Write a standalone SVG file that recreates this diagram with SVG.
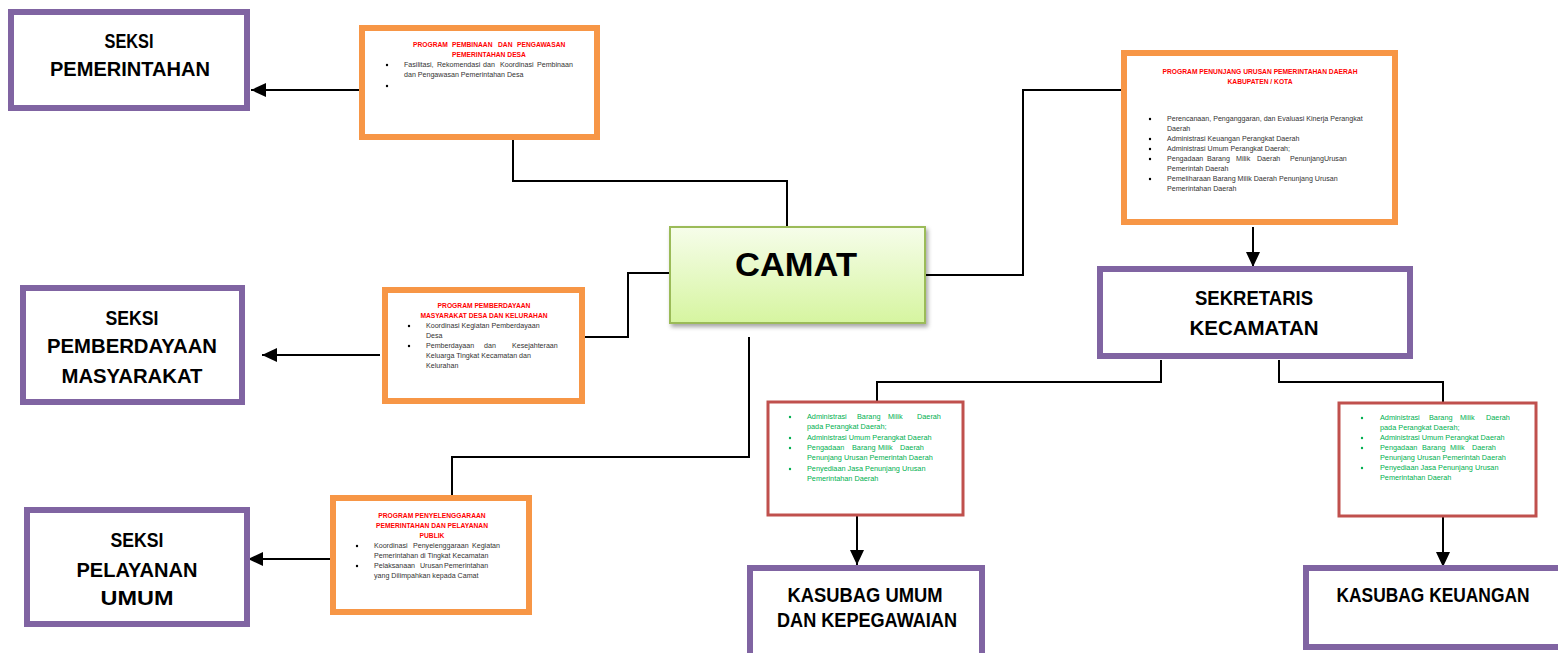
<svg xmlns="http://www.w3.org/2000/svg" width="1558" height="653" viewBox="0 0 1558 653">
<style>
.seksi{fill:#fff;stroke:#8064a2;stroke-width:6}
.prog{fill:#fff;stroke:#f79646;stroke-width:6}
.redbox{fill:#fff;stroke:#c0504d;stroke-width:3}
.big{font-family:"Liberation Sans",Arial,sans-serif;font-weight:bold;font-size:20px;fill:#000;text-anchor:middle}
.tt{font-family:"Liberation Sans",Arial,sans-serif;font-weight:bold;font-size:6.7px;fill:#ff0000;text-anchor:middle}
.tts{font-family:"Liberation Sans",Arial,sans-serif;font-weight:bold;font-size:6.7px;fill:#ff0000}
.bt{font-family:"Liberation Sans",Arial,sans-serif;font-size:7.1px;fill:#333}
.gt{font-family:"Liberation Sans",Arial,sans-serif;font-size:7.3px;fill:#00b050}
.bl{fill:#000}
.gbl{fill:#00b050}
.conn{fill:none;stroke:#000;stroke-width:2}
</style>
<defs>
<marker id="arr" markerUnits="userSpaceOnUse" markerWidth="16" markerHeight="14" refX="15" refY="7" orient="auto">
<path d="M0,0 L15,7 L0,14 z" fill="#000"/>
</marker>
<linearGradient id="camatG" x1="0" y1="0" x2="0" y2="1">
<stop offset="0" stop-color="#f6fdea"/>
<stop offset="1" stop-color="#d6f5a0"/>
</linearGradient>
<filter id="sh" x="-10%" y="-10%" width="130%" height="140%">
<feDropShadow dx="2" dy="3" stdDeviation="2" flood-color="#000" flood-opacity="0.35"/>
</filter>
</defs>
<rect width="1558" height="653" fill="#fff"/>

<g id="connectors">
<path class="conn" d="M360,90 H251" marker-end="url(#arr)"/>
<path class="conn" d="M513,140 V181 H787 V226"/>
<path class="conn" d="M669,273 H628 V337 H583"/>
<path class="conn" d="M925,275 H1023 V90 H1122"/>
<path class="conn" d="M749,337 V457 H452 V497"/>
<path class="conn" d="M380,355 H262" marker-end="url(#arr)"/>
<path class="conn" d="M330,559 H248" marker-end="url(#arr)"/>
<path class="conn" d="M1253,227 V267" marker-end="url(#arr)"/>
<path class="conn" d="M1161,360 V382 H877 V401"/>
<path class="conn" d="M1279,360 V382 H1443 V402"/>
<path class="conn" d="M857,516 V565" marker-end="url(#arr)"/>
<path class="conn" d="M1443,517 V567" marker-end="url(#arr)"/>
</g>

<g id="seksi-pemerintahan">
<rect class="seksi" x="11" y="12" width="236" height="96"/>
<text class="big" x="129" y="48" textLength="49" lengthAdjust="spacingAndGlyphs">SEKSI</text>
<text class="big" x="130" y="76" textLength="160" lengthAdjust="spacingAndGlyphs">PEMERINTAHAN</text>
</g>

<g id="seksi-pemberdayaan">
<rect class="seksi" x="23" y="288" width="219" height="114"/>
<text class="big" x="132" y="325" textLength="53" lengthAdjust="spacingAndGlyphs">SEKSI</text>
<text class="big" x="132" y="353" textLength="170" lengthAdjust="spacingAndGlyphs">PEMBERDAYAAN</text>
<text class="big" x="132" y="383" textLength="141" lengthAdjust="spacingAndGlyphs">MASYARAKAT</text>
</g>

<g id="seksi-pelayanan">
<rect class="seksi" x="27" y="510" width="220" height="114"/>
<text class="big" x="137" y="547" textLength="53" lengthAdjust="spacingAndGlyphs">SEKSI</text>
<text class="big" x="137" y="577" textLength="121" lengthAdjust="spacingAndGlyphs">PELAYANAN</text>
<text class="big" x="137" y="605" textLength="73" lengthAdjust="spacingAndGlyphs">UMUM</text>
</g>

<g id="program-pembinaan">
<rect class="prog" x="362" y="28" width="235" height="109"/>
<text class="tts" y="47"><tspan x="413">PROGRAM</tspan><tspan x="452">PEMBINAAN</tspan><tspan x="498">DAN</tspan><tspan x="517">PENGAWASAN</tspan></text>
<text class="tt" x="489" y="57">PEMERINTAHAN DESA</text>
<circle class="bl" cx="387" cy="65" r="1.2"/>
<text class="bt" y="67"><tspan x="404">Fasilitasi,</tspan><tspan x="437">Rekomendasi</tspan><tspan x="483">dan</tspan><tspan x="500">Koordinasi</tspan><tspan x="537">Pembinaan</tspan></text>
<text class="bt" x="404" y="77">dan Pengawasan Pemerintahan Desa</text>
<circle class="bl" cx="387" cy="86" r="1.2"/>
</g>

<g id="program-pemberdayaan">
<rect class="prog" x="385" y="290" width="197" height="111"/>
<text class="tt" x="484" y="308">PROGRAM  PEMBERDAYAAN</text>
<text class="tt" x="484" y="318">MASYARAKAT DESA DAN KELURAHAN</text>
<circle class="bl" cx="409" cy="326" r="1.2"/>
<text class="bt" x="426" y="328">Koordinasi Kegiatan Pemberdayaan</text>
<text class="bt" x="426" y="338">Desa</text>
<circle class="bl" cx="409" cy="346" r="1.2"/>
<text class="bt" y="348"><tspan x="426">Pemberdayaan</tspan><tspan x="484">dan</tspan><tspan x="512">Kesejahteraan</tspan></text>
<text class="bt" x="426" y="358">Keluarga Tingkat Kecamatan dan</text>
<text class="bt" x="426" y="368">Kelurahan</text>
</g>

<g id="program-penyelenggaraan">
<rect class="prog" x="333" y="498" width="196" height="114"/>
<text class="tt" x="432" y="518">PROGRAM PENYELENGGARAAN</text>
<text class="tt" x="432" y="528">PEMERINTAHAN DAN PELAYANAN</text>
<text class="tt" x="432" y="538">PUBLIK</text>
<circle class="bl" cx="357" cy="546" r="1.2"/>
<text class="bt" y="548"><tspan x="374">Koordinasi</tspan><tspan x="413">Penyelenggaraan</tspan><tspan x="472">Kegiatan</tspan></text>
<text class="bt" x="374" y="558">Pemerintahan di Tingkat Kecamatan</text>
<circle class="bl" cx="357" cy="566" r="1.2"/>
<text class="bt" y="568"><tspan x="374">Pelaksanaan</tspan><tspan x="420">Urusan</tspan><tspan x="444">Pemerintahan</tspan></text>
<text class="bt" x="374" y="578">yang Dilimpahkan kepada Camat</text>
</g>

<g id="camat">
<rect x="670" y="227" width="255" height="96" fill="url(#camatG)" stroke="#9bbb59" stroke-width="2" filter="url(#sh)"/>
<text x="796" y="276" font-family="'Liberation Sans',Arial,sans-serif" font-weight="bold" font-size="34" text-anchor="middle" fill="#000" textLength="122" lengthAdjust="spacingAndGlyphs">CAMAT</text>
</g>

<g id="program-penunjang">
<rect class="prog" x="1124" y="53" width="271" height="169"/>
<text class="tt" x="1260" y="74">PROGRAM PENUNJANG URUSAN PEMERINTAHAN DAERAH</text>
<text class="tt" x="1260" y="84">KABUPATEN / KOTA</text>
<circle class="bl" cx="1150" cy="119" r="1.2"/>
<text class="bt" x="1167" y="121">Perencanaan, Penganggaran, dan Evaluasi Kinerja Perangkat</text>
<text class="bt" x="1167" y="131">Daerah</text>
<circle class="bl" cx="1150" cy="139" r="1.2"/>
<text class="bt" x="1167" y="141">Administrasi Keuangan Perangkat Daerah</text>
<circle class="bl" cx="1150" cy="149" r="1.2"/>
<text class="bt" x="1167" y="151">Administrasi Umum Perangkat Daerah;</text>
<circle class="bl" cx="1150" cy="159" r="1.2"/>
<text class="bt" y="161"><tspan x="1167">Pengadaan</tspan><tspan x="1207">Barang</tspan><tspan x="1236">Milik</tspan><tspan x="1257">Daerah</tspan><tspan x="1290">PenunjangUrusan</tspan></text>
<text class="bt" x="1167" y="171">Pemerintah Daerah</text>
<circle class="bl" cx="1150" cy="179" r="1.2"/>
<text class="bt" x="1167" y="181">Pemeliharaan Barang Milik Daerah Penunjang Urusan</text>
<text class="bt" x="1167" y="191">Pemerintahan Daerah</text>
</g>

<g id="sekretaris">
<rect class="seksi" x="1100" y="269" width="310" height="87"/>
<text class="big" x="1254" y="305" textLength="118" lengthAdjust="spacingAndGlyphs">SEKRETARIS</text>
<text class="big" x="1254" y="335" textLength="129" lengthAdjust="spacingAndGlyphs">KECAMATAN</text>
</g>

<g id="rincian-umum">
<rect class="redbox" x="768" y="402" width="195" height="113"/>
<circle class="gbl" cx="790" cy="417" r="1.2"/>
<text class="gt" y="419"><tspan x="807">Administrasi</tspan><tspan x="857">Barang</tspan><tspan x="888">Milik</tspan><tspan x="917">Daerah</tspan></text>
<text class="gt" x="807" y="429">pada Perangkat Daerah;</text>
<circle class="gbl" cx="790" cy="438" r="1.2"/>
<text class="gt" x="807" y="440">Administrasi Umum Perangkat Daerah</text>
<circle class="gbl" cx="790" cy="448" r="1.2"/>
<text class="gt" y="450"><tspan x="807">Pengadaan</tspan><tspan x="852">Barang</tspan><tspan x="878">Milik</tspan><tspan x="900">Daerah</tspan></text>
<text class="gt" x="807" y="460">Penunjang Urusan Pemerintah Daerah</text>
<circle class="gbl" cx="790" cy="469" r="1.2"/>
<text class="gt" x="807" y="471">Penyediaan Jasa Penunjang Urusan</text>
<text class="gt" x="807" y="481">Pemerintahan Daerah</text>
</g>

<g id="rincian-keuangan">
<rect class="redbox" x="1339" y="403" width="197" height="113"/>
<circle class="gbl" cx="1362" cy="418" r="1.2"/>
<text class="gt" y="420"><tspan x="1380">Administrasi</tspan><tspan x="1429">Barang</tspan><tspan x="1460">Milik</tspan><tspan x="1486">Daerah</tspan></text>
<text class="gt" x="1380" y="430">pada Perangkat Daerah;</text>
<circle class="gbl" cx="1362" cy="438" r="1.2"/>
<text class="gt" x="1380" y="440">Administrasi Umum Perangkat Daerah</text>
<circle class="gbl" cx="1362" cy="448" r="1.2"/>
<text class="gt" y="450"><tspan x="1380">Pengadaan</tspan><tspan x="1422">Barang</tspan><tspan x="1450">Milik</tspan><tspan x="1472">Daerah</tspan></text>
<text class="gt" x="1380" y="460">Penunjang Urusan Pemerintah Daerah</text>
<circle class="gbl" cx="1362" cy="468" r="1.2"/>
<text class="gt" x="1380" y="470">Penyediaan Jasa Penunjang Urusan</text>
<text class="gt" x="1380" y="480">Pemerintahan Daerah</text>
</g>

<g id="kasubag-umum">
<rect class="seksi" x="750" y="568" width="232" height="95"/>
<text class="big" x="865" y="602" textLength="155" lengthAdjust="spacingAndGlyphs">KASUBAG UMUM</text>
<text class="big" x="867" y="627" textLength="180" lengthAdjust="spacingAndGlyphs">DAN KEPEGAWAIAN</text>
</g>

<g id="kasubag-keuangan">
<rect class="seksi" x="1306" y="568" width="260" height="79"/>
<text class="big" x="1433" y="602" textLength="193" lengthAdjust="spacingAndGlyphs">KASUBAG KEUANGAN</text>
</g>
</svg>
